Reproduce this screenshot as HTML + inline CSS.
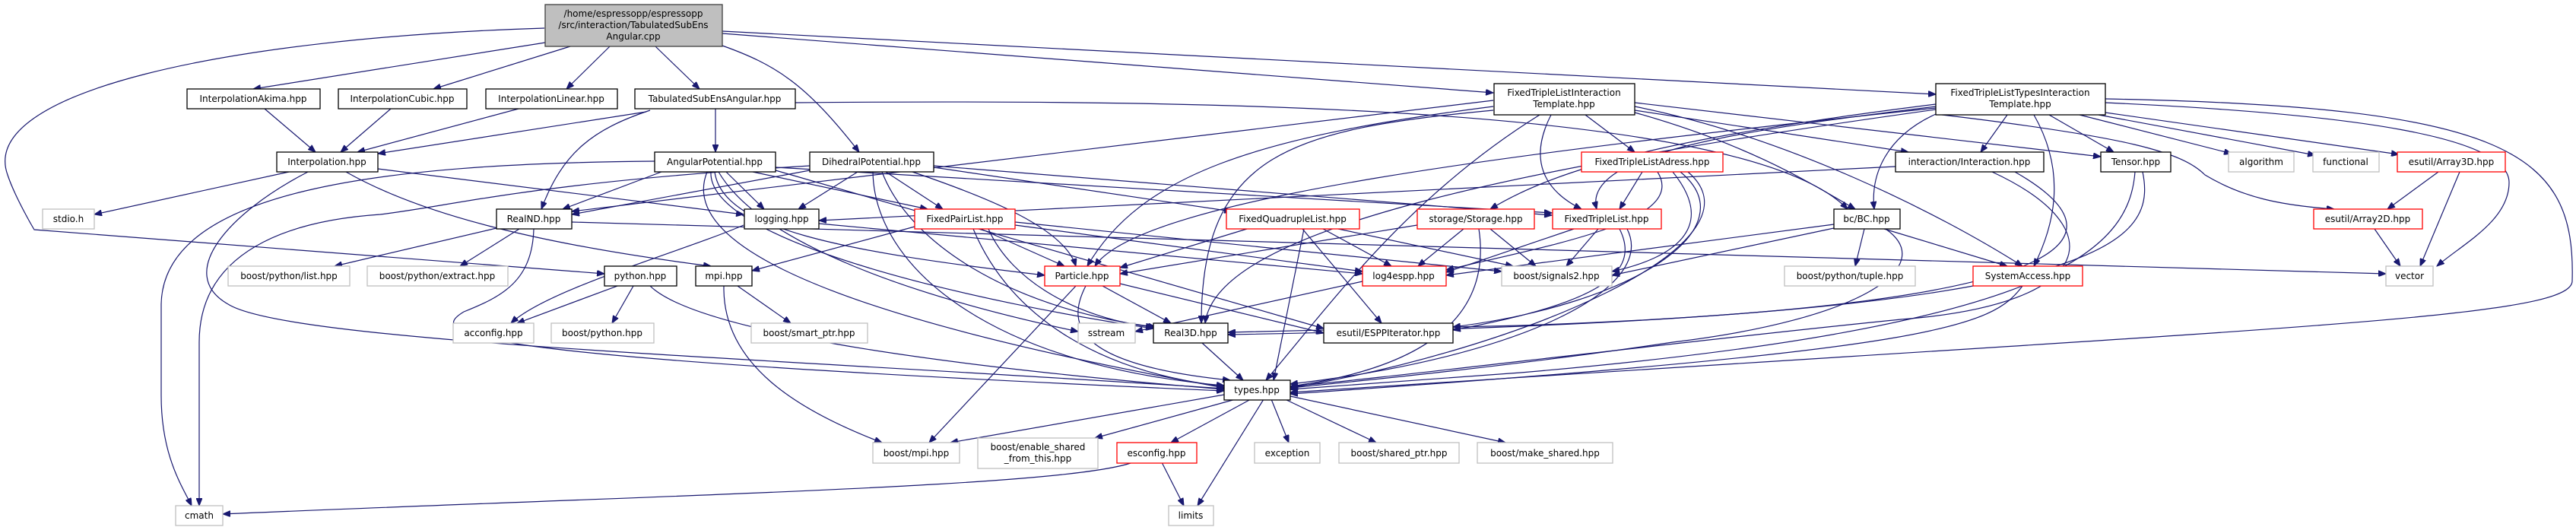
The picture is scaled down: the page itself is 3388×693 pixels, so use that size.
<!DOCTYPE html>
<html><head><meta charset="utf-8"><style>
html,body{margin:0;padding:0;background:#fff;}
svg{display:block;}
text{font-family:"DejaVu Sans","Liberation Sans",sans-serif;font-size:12px;fill:#000;text-anchor:middle;}
.e{fill:none;stroke:#191970;stroke-width:1.2;marker-end:url(#a);}
.k{fill:#fff;stroke:#000;stroke-width:1.3;}
.r{fill:#fff;stroke:#ff0000;stroke-width:1.3;}
.g{fill:#fff;stroke:#bfbfbf;stroke-width:1.3;}
</style></head><body>
<svg width="3388" height="693" viewBox="0 0 3388 693" xmlns="http://www.w3.org/2000/svg">
<defs><marker id="a" markerUnits="userSpaceOnUse" markerWidth="11" markerHeight="8" refX="10" refY="4" orient="auto"><path d="M0,0 L10,4 L0,8 z" fill="#191970" stroke="#191970"/></marker></defs>
<g>
<path class="e" d="M717,56 L333,117"/>
<path class="e" d="M750,61 L570,117"/>
<path class="e" d="M802,61 L745,117"/>
<path class="e" d="M862,61 L920,117"/>
<path class="e" d="M950,60 C1020,85 1060,110 1130,200"/>
<path class="e" d="M950,44 L1964,122"/>
<path class="e" d="M950,41 L2546,124"/>
<path class="e" d="M716,37 C300,50 -30,120 10,230 C20,260 45,302 45,302 L795,360"/>
<path class="e" d="M348,143 L415,200"/>
<path class="e" d="M514,143 L448,200"/>
<path class="e" d="M682,143 L470,200"/>
<path class="e" d="M850,147 L497,202"/>
<path class="e" d="M941,143 L941,200"/>
<path class="e" d="M855,145 C780,170 740,200 712,275"/>
<path class="e" d="M1046,135 C1600,130 2300,140 2430,275"/>
<path class="e" d="M380,226 L124,282"/>
<path class="e" d="M861,212 C500,215 215,250 212,400 L212,520 C212,600 240,640 252,665"/>
<path class="e" d="M1065,218 C700,240 600,270 500,282 C380,290 262,330 262,450 L262,665"/>
<path class="e" d="M405,226 C300,280 230,360 300,400 C380,450 1000,470 1610,511"/>
<path class="e" d="M497,222 L978,282"/>
<path class="e" d="M455,226 C550,280 700,320 935,350"/>
<path class="e" d="M653,300 L440,350"/>
<path class="e" d="M683,301 L605,350"/>
<path class="e" d="M702,301 C700,370 660,390 610,410 C560,440 600,470 1610,514"/>
<path class="e" d="M752,292 L3138,360"/>
<path class="e" d="M812,376 L680,425"/>
<path class="e" d="M833,376 L805,425"/>
<path class="e" d="M855,376 C900,420 1100,470 1610,512"/>
<path class="e" d="M952,376 C950,480 1050,540 1160,582"/>
<path class="e" d="M970,376 L1040,425"/>
<path class="e" d="M978,296 C900,330 720,380 672,425"/>
<path class="e" d="M1077,294 L1792,360"/>
<path class="e" d="M955,226 L1005,275"/>
<path class="e" d="M870,226 L740,275"/>
<path class="e" d="M990,226 L1220,275"/>
<path class="e" d="M1020,220 L2041,280"/>
<path class="e" d="M940,226 C950,300 1100,330 1374,362"/>
<path class="e" d="M935,226 C930,320 1300,400 1517,432"/>
<path class="e" d="M930,226 C900,300 1000,400 1610,510"/>
<path class="e" d="M945,226 C1000,320 1200,390 1418,436"/>
<path class="e" d="M1020,224 L1741,432"/>
<path class="e" d="M1128,226 L1050,275"/>
<path class="e" d="M1165,226 L1240,275"/>
<path class="e" d="M1200,226 C1300,260 1400,300 1415,350"/>
<path class="e" d="M1228,220 L1620,278"/>
<path class="e" d="M1228,218 L2041,283"/>
<path class="e" d="M1148,226 C1150,350 1300,480 1610,507"/>
<path class="e" d="M1160,226 C1200,330 1350,410 1520,430"/>
<path class="e" d="M1065,224 L752,282"/>
<path class="e" d="M1290,301 L1400,350"/>
<path class="e" d="M1280,301 C1330,420 1450,490 1610,508"/>
<path class="e" d="M1300,301 C1330,370 1420,420 1517,430"/>
<path class="e" d="M1335,296 L1792,357"/>
<path class="e" d="M1335,292 L1975,357"/>
<path class="e" d="M1203,298 L989,356"/>
<path class="e" d="M1640,301 L1473,352"/>
<path class="e" d="M1715,301 L1675,500"/>
<path class="e" d="M1740,301 L1830,350"/>
<path class="e" d="M1760,301 L1990,350"/>
<path class="e" d="M1713,301 L1817,425"/>
<path class="e" d="M1428,376 C1400,430 1420,480 1618,500"/>
<path class="e" d="M1450,376 L1540,425"/>
<path class="e" d="M1415,376 L1222,582"/>
<path class="e" d="M1473,373 L1741,438"/>
<path class="e" d="M1581,451 L1635,500"/>
<path class="e" d="M1490,608 C1400,640 900,650 293,676"/>
<path class="e" d="M1528,608 L1557,665"/>
<path class="e" d="M1610,519 L1250,582"/>
<path class="e" d="M1625,525 L1440,576"/>
<path class="e" d="M1645,525 L1540,582"/>
<path class="e" d="M1662,525 L1575,665"/>
<path class="e" d="M1672,525 L1695,582"/>
<path class="e" d="M1690,525 L1810,582"/>
<path class="e" d="M1697,521 L1980,582"/>
<path class="e" d="M2085,151 L2150,200"/>
<path class="e" d="M2040,151 C2010,210 2030,250 2080,275"/>
<path class="e" d="M2025,151 C1850,260 1750,400 1665,500"/>
<path class="e" d="M2150,148 C2300,190 2380,240 2440,275"/>
<path class="e" d="M2150,145 L2510,200"/>
<path class="e" d="M2150,135 L2763,206"/>
<path class="e" d="M2150,140 C2350,180 2550,280 2660,350"/>
<path class="e" d="M1964,140 C1650,180 1500,230 1430,350"/>
<path class="e" d="M1964,145 C1700,170 1580,200 1580,425"/>
<path class="e" d="M1964,132 L752,278"/>
<path class="e" d="M2640,151 L2605,200"/>
<path class="e" d="M2695,151 L2780,200"/>
<path class="e" d="M2735,151 L2935,202"/>
<path class="e" d="M2760,151 L3045,204"/>
<path class="e" d="M2769,148 L3155,203"/>
<path class="e" d="M2546,150 C2800,180 2870,200 2900,230 C2950,260 3000,270 3070,275"/>
<path class="e" d="M2769,135 C3100,150 3300,180 3300,240 C3300,290 3240,320 3205,350"/>
<path class="e" d="M2769,130 C3300,140 3388,200 3383,370 C3380,420 3000,430 1697,516"/>
<path class="e" d="M2546,150 C2480,180 2460,230 2465,275"/>
<path class="e" d="M2675,151 C2720,230 2700,300 2675,350"/>
<path class="e" d="M2546,140 C2300,170 2080,200 2100,275"/>
<path class="e" d="M2546,137 C2200,180 2050,220 1960,275"/>
<path class="e" d="M2546,142 C2000,200 1500,260 1440,350"/>
<path class="e" d="M2546,144 C2000,220 1600,300 1585,425"/>
<path class="e" d="M2160,226 L2130,275"/>
<path class="e" d="M2180,226 C2220,290 2050,320 1902,355"/>
<path class="e" d="M2200,226 C2260,300 2200,340 2120,357"/>
<path class="e" d="M2210,226 C2300,300 2150,400 1911,430"/>
<path class="e" d="M2220,226 C2330,320 2000,460 1697,510"/>
<path class="e" d="M2493,219 L1077,290"/>
<path class="e" d="M2620,226 C2780,300 2760,400 2500,420 C2200,450 1800,500 1697,508"/>
<path class="e" d="M2650,226 C2780,300 2800,400 2000,428 L1615,437"/>
<path class="e" d="M2808,226 C2800,330 2700,430 2000,490 L1697,512"/>
<path class="e" d="M2818,226 C2840,330 2750,420 1615,440"/>
<path class="e" d="M3207,226 L3140,275"/>
<path class="e" d="M3235,226 L3183,350"/>
<path class="e" d="M3123,301 L3157,350"/>
<path class="e" d="M1925,301 L1865,350"/>
<path class="e" d="M1960,301 L2020,350"/>
<path class="e" d="M1864,296 L1473,360"/>
<path class="e" d="M1945,301 C1960,400 1900,480 1697,508"/>
<path class="e" d="M2070,301 L1902,358"/>
<path class="e" d="M2102,301 L2060,350"/>
<path class="e" d="M2130,301 C2160,360 2100,400 1911,434"/>
<path class="e" d="M2140,301 C2180,380 2000,470 1697,505"/>
<path class="e" d="M2412,295 L1902,362"/>
<path class="e" d="M2412,300 L2120,362"/>
<path class="e" d="M2452,301 L2440,350"/>
<path class="e" d="M2478,301 L2640,350"/>
<path class="e" d="M2480,301 C2550,350 2450,420 2200,450 C2000,480 1800,500 1697,510"/>
<path class="e" d="M2660,376 C2620,430 2550,460 1697,518"/>
<path class="e" d="M1792,370 L1493,436"/>
</g>
<g>
<rect x="717" y="6" width="233" height="55" fill="#bfbfbf" stroke="#404040" stroke-width="1.3"/>
<text x="833" y="22">/home/espressopp/espressopp</text>
<text x="833" y="37">/src/interaction/TabulatedSubEns</text>
<text x="833" y="52">Angular.cpp</text>

<rect class="k" x="246" y="117" width="175" height="26"/><text x="333" y="134">InterpolationAkima.hpp</text>
<rect class="k" x="445" y="117" width="169" height="26"/><text x="529" y="134">InterpolationCubic.hpp</text>
<rect class="k" x="639" y="117" width="173" height="26"/><text x="725" y="134">InterpolationLinear.hpp</text>
<rect class="k" x="835" y="117" width="211" height="26"/><text x="940" y="134">TabulatedSubEnsAngular.hpp</text>
<rect class="k" x="1965" y="110" width="185" height="41"/><text x="2057" y="126">FixedTripleListInteraction</text><text x="2057" y="141">Template.hpp</text>
<rect class="k" x="2546" y="110" width="223" height="41"/><text x="2657" y="126">FixedTripleListTypesInteraction</text><text x="2657" y="141">Template.hpp</text>

<rect class="k" x="364" y="200" width="133" height="26"/><text x="430" y="217">Interpolation.hpp</text>
<rect class="k" x="861" y="200" width="159" height="26"/><text x="940" y="217">AngularPotential.hpp</text>
<rect class="k" x="1065" y="200" width="163" height="26"/><text x="1146" y="217">DihedralPotential.hpp</text>
<rect class="r" x="2080" y="200" width="186" height="26"/><text x="2173" y="217">FixedTripleListAdress.hpp</text>
<rect class="k" x="2493" y="200" width="195" height="26"/><text x="2590" y="217">interaction/Interaction.hpp</text>
<rect class="k" x="2763" y="200" width="92" height="26"/><text x="2809" y="217">Tensor.hpp</text>
<rect class="g" x="2931" y="200" width="86" height="26"/><text x="2974" y="217">algorithm</text>
<rect class="g" x="3042" y="200" width="87" height="26"/><text x="3085" y="217">functional</text>
<rect class="r" x="3153" y="200" width="142" height="26"/><text x="3224" y="217">esutil/Array3D.hpp</text>

<rect class="g" x="56" y="275" width="68" height="26"/><text x="90" y="292">stdio.h</text>
<rect class="k" x="653" y="275" width="99" height="26"/><text x="702" y="292">RealND.hpp</text>
<rect class="k" x="979" y="275" width="98" height="26"/><text x="1028" y="292">logging.hpp</text>
<rect class="r" x="1203" y="275" width="132" height="26"/><text x="1269" y="292">FixedPairList.hpp</text>
<rect class="r" x="1613" y="275" width="175" height="26"/><text x="1700" y="292">FixedQuadrupleList.hpp</text>
<rect class="r" x="1864" y="275" width="154" height="26"/><text x="1941" y="292">storage/Storage.hpp</text>
<rect class="r" x="2042" y="275" width="143" height="26"/><text x="2113" y="292">FixedTripleList.hpp</text>
<rect class="k" x="2412" y="275" width="87" height="26"/><text x="2455" y="292">bc/BC.hpp</text>
<rect class="r" x="3043" y="275" width="143" height="26"/><text x="3114" y="292">esutil/Array2D.hpp</text>

<rect class="g" x="300" y="350" width="160" height="26"/><text x="380" y="367">boost/python/list.hpp</text>
<rect class="g" x="483" y="350" width="185" height="26"/><text x="575" y="367">boost/python/extract.hpp</text>
<rect class="k" x="795" y="350" width="95" height="26"/><text x="842" y="367">python.hpp</text>
<rect class="k" x="915" y="350" width="74" height="26"/><text x="952" y="367">mpi.hpp</text>
<rect class="r" x="1374" y="350" width="99" height="26"/><text x="1423" y="367">Particle.hpp</text>
<rect class="r" x="1792" y="350" width="110" height="26"/><text x="1846" y="367">log4espp.hpp</text>
<rect class="g" x="1975" y="350" width="145" height="26"/><text x="2047" y="367">boost/signals2.hpp</text>
<rect class="g" x="2347" y="350" width="172" height="26"/><text x="2433" y="367">boost/python/tuple.hpp</text>
<rect class="r" x="2595" y="350" width="144" height="26"/><text x="2667" y="367">SystemAccess.hpp</text>
<rect class="g" x="3138" y="350" width="62" height="26"/><text x="3169" y="367">vector</text>

<rect class="g" x="596" y="425" width="106" height="26"/><text x="649" y="442">acconfig.hpp</text>
<rect class="g" x="725" y="425" width="135" height="26"/><text x="792" y="442">boost/python.hpp</text>
<rect class="g" x="988" y="425" width="153" height="26"/><text x="1064" y="442">boost/smart_ptr.hpp</text>
<rect class="g" x="1418" y="425" width="75" height="26"/><text x="1455" y="442">sstream</text>
<rect class="k" x="1517" y="425" width="98" height="26"/><text x="1566" y="442">Real3D.hpp</text>
<rect class="k" x="1741" y="425" width="170" height="26"/><text x="1826" y="442">esutil/ESPPIterator.hpp</text>

<rect class="k" x="1610" y="500" width="87" height="26"/><text x="1653" y="517">types.hpp</text>

<rect class="g" x="1148" y="582" width="114" height="27"/><text x="1205" y="600">boost/mpi.hpp</text>
<rect class="g" x="1286" y="576" width="158" height="40"/><text x="1365" y="592">boost/enable_shared</text><text x="1365" y="607">_from_this.hpp</text>
<rect class="r" x="1469" y="582" width="105" height="27"/><text x="1521" y="600">esconfig.hpp</text>
<rect class="g" x="1650" y="582" width="86" height="27"/><text x="1693" y="600">exception</text>
<rect class="g" x="1761" y="582" width="158" height="27"/><text x="1840" y="600">boost/shared_ptr.hpp</text>
<rect class="g" x="1943" y="582" width="178" height="27"/><text x="2032" y="600">boost/make_shared.hpp</text>

<rect class="g" x="231" y="665" width="62" height="26"/><text x="262" y="682">cmath</text>
<rect class="g" x="1537" y="665" width="59" height="26"/><text x="1566" y="682">limits</text>
</g>
</svg>
</body></html>
